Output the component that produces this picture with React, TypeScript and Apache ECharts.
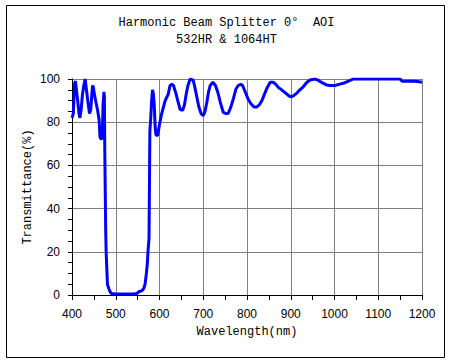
import React, { useEffect, useRef } from "react";
import * as echarts from "echarts";

const titleLines = ["Harmonic Beam Splitter 0°  AOI", "532HR & 1064HT"];
const xAxisName = "Wavelength(nm)";
const yAxisName = "Transmittance(%)";

const wavelength = [
  400, 403, 406, 408, 410, 413, 416, 418, 421, 424, 427, 430, 433, 436, 440, 443, 445, 447, 449, 451,
  455, 459, 462, 464, 467, 469, 471, 473, 474, 475, 477, 478, 480, 481, 484, 487, 490, 500, 520, 540,
  548, 553, 560, 564, 567, 570, 572, 574, 576, 577, 578, 580, 582, 584, 586, 588, 590, 592, 596, 600,
  605, 613, 620, 624, 628, 632, 638, 643, 647, 653, 657, 661, 665, 670, 677, 681, 685, 690, 695, 700,
  704, 708, 712, 716, 722, 728, 733, 738, 742, 746, 752, 757, 763, 769, 775, 780, 786, 790, 796, 803,
  809, 816, 822, 828, 834, 840, 846, 853, 860, 866, 872, 879, 885, 891, 897, 902, 908, 914, 921, 929,
  937, 944, 955, 962, 967, 975, 982, 990, 1001, 1010, 1020, 1032, 1043, 1060, 1080, 1100, 1120, 1140, 1150, 1154,
  1165, 1180, 1190, 1200,
];
const transmittance = [
  82, 84, 98, 99, 95, 90, 84, 82, 86, 93, 97, 100, 95, 90, 84, 86, 92, 97, 96, 93,
  89, 85, 81, 73, 72, 73, 88, 94, 92, 66, 30, 20, 10, 5, 3, 1.5, 0.7, 0.5, 0.5, 0.5,
  0.7, 1.5, 2, 3, 5, 10, 14, 21, 26, 50, 76, 82, 90, 95, 93, 88, 78, 74, 74, 79,
  84, 90, 93, 97, 97.5, 97, 93, 89, 86, 85.5, 88, 93, 97, 100, 99.5, 96, 92, 87, 84, 83,
  85, 89, 94, 97, 98.5, 97, 94, 90, 87, 84.5, 84, 84, 87, 91, 95.5, 97, 97.5, 97, 94, 90.5,
  88.5, 87, 87, 88, 90, 93, 96, 98.5, 98.5, 97.5, 96, 95, 94, 93, 92, 91.8, 92.5, 93.5, 95, 96.5,
  98.5, 99.5, 100, 99.5, 98.8, 98, 97.2, 97, 97, 97.5, 98, 99, 100, 100, 100, 100, 100, 100, 100, 99,
  99, 99, 98.8, 98.5,
];

const monoFont = "'Liberation Mono', 'DejaVu Sans Mono', monospace";
const labelFont = "'Liberation Sans', Arial, sans-serif";

export default function App() {
  const ref = useRef<HTMLDivElement>(null);
  useEffect(() => {
    if (!ref.current) return;
    const chart = echarts.init(ref.current, null, { renderer: "svg" });
    const data = wavelength.map((w, i) => [w, transmittance[i]]);
    chart.setOption({
      animation: false,
      backgroundColor: "#ffffff",
      title: {
        text: titleLines.join("\n"),
        left: "center",
        top: 9,
        textStyle: {
          fontFamily: monoFont,
          fontSize: 12,
          fontWeight: "normal",
          color: "#000",
          lineHeight: 17,
        },
      },
      graphic: [
        {
          type: "rect",
          shape: { x: 6.5, y: 5.5, width: 438, height: 352 },
          style: { fill: "none", stroke: "#000", lineWidth: 1 },
          silent: true,
        },
      ],
      grid: { left: 72, right: 31, top: 79, bottom: 67 },
      xAxis: {
        type: "value",
        min: 400,
        max: 1200,
        interval: 100,
        name: xAxisName,
        nameLocation: "middle",
        nameGap: 31,
        nameMoveOverlap: false,
        nameTextStyle: { fontFamily: monoFont, fontSize: 12, color: "#000" },
        axisLine: { show: true, onZero: false, lineStyle: { color: "#000", width: 1 } },
        axisTick: { show: true, inside: false, length: 5, lineStyle: { color: "#000" } },
        minorTick: { show: true, splitNumber: 2, length: 5, lineStyle: { color: "#000" } },
        axisLabel: {
          margin: 13,
          fontFamily: labelFont,
          fontSize: 12,
          color: "#000",
          formatter: (v: number) => String(v),
        },
        splitLine: { show: true, lineStyle: { color: "#808080", width: 1 } },
      },
      yAxis: {
        type: "value",
        min: 0,
        max: 100,
        interval: 20,
        name: yAxisName,
        nameLocation: "middle",
        nameGap: 38,
        nameMoveOverlap: false,
        nameTextStyle: { fontFamily: monoFont, fontSize: 12, color: "#000" },
        axisLine: { show: true, onZero: false, lineStyle: { color: "#000", width: 1 } },
        axisTick: { show: true, inside: false, length: 4, lineStyle: { color: "#000" } },
        minorTick: { show: true, splitNumber: 4, length: 4, lineStyle: { color: "#000" } },
        axisLabel: {
          margin: 12,
          fontFamily: labelFont,
          fontSize: 12,
          color: "#000",
          formatter: (v: number) => String(v),
        },
        splitLine: { show: true, lineStyle: { color: "#808080", width: 1 } },
      },
      series: [
        {
          type: "line",
          data,
          symbol: "none",
          lineStyle: { color: "#0000ff", width: 3 },
          clip: true,
        },
      ],
    });
    return () => chart.dispose();
  }, []);
  return (
    <div
      ref={ref}
      style={{ position: "fixed", left: 0, top: 0, width: 453, height: 362, background: "#fff" }}
    />
  );
}
